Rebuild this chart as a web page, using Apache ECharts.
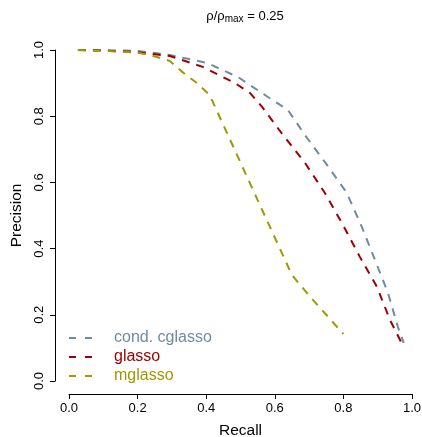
<!DOCTYPE html>
<html>
<head>
<meta charset="utf-8">
<script src="https://cdn.jsdelivr.net/npm/echarts@6/dist/echarts.min.js"></script>
<style>
  html, body { margin: 0; padding: 0; background: #fff; }
  #chart { width: 422px; height: 437px; }
</style>
</head>
<body>
<div id="chart"></div>
<script>
  // values
  const seriesNames = ['cond. cglasso', 'glasso', 'mglasso'];
  const seriesColors = ['#6f8ca0', '#a10000', '#9e9900'];

  const cglassoRecall = [0.026, 0.09, 0.2, 0.294, 0.402, 0.493, 0.58, 0.638, 0.688, 0.752, 0.81, 0.854, 0.892, 0.93, 0.959, 0.976];
  const cglassoPrecision = [1.0, 1.0, 0.997, 0.985, 0.961, 0.918, 0.858, 0.819, 0.743, 0.653, 0.568, 0.465, 0.366, 0.266, 0.163, 0.115];

  const glassoRecall = [0.026, 0.1, 0.192, 0.294, 0.39, 0.484, 0.528, 0.563, 0.624, 0.688, 0.746, 0.799, 0.848, 0.898, 0.936, 0.972];
  const glassoPrecision = [1.0, 0.998, 0.994, 0.982, 0.949, 0.9, 0.87, 0.828, 0.743, 0.659, 0.568, 0.471, 0.375, 0.284, 0.184, 0.11];

  const mglassoRecall = [0.026, 0.1, 0.2, 0.236, 0.294, 0.33, 0.373, 0.41, 0.65, 0.70, 0.80];
  const mglassoPrecision = [1.0, 0.998, 0.992, 0.985, 0.967, 0.934, 0.9, 0.864, 0.32, 0.258, 0.142];

  const axisTicks = [0, 0.2, 0.4, 0.6, 0.8, 1.0];

  const FONT = '"Liberation Sans", Arial, Helvetica, sans-serif';

  function pairs (xs, ys) {
    return xs.map((x, i) => [x, ys[i]]);
  }

  const seriesData = [
    pairs(cglassoRecall, cglassoPrecision),
    pairs(glassoRecall, glassoPrecision),
    pairs(mglassoRecall, mglassoPrecision)
  ];

  // R-style detached axis: line only from first to last tick, ticks outward
  function axisBase () {
    return {
      type: 'value',
      min: axisTicks[0],
      max: axisTicks[axisTicks.length - 1],
      interval: 0.2,
      splitLine: { show: false },
      axisLine: { show: true, onZero: false, lineStyle: { color: '#000', width: 1 } },
      axisTick: { show: true, length: 5, inside: false, lineStyle: { color: '#000', width: 1 } },
      axisLabel: {
        color: '#000',
        fontFamily: FONT,
        fontSize: 13,
        formatter: (v) => v.toFixed(1)
      },
      nameTextStyle: { color: '#000', fontFamily: FONT, fontSize: 15.5 }
    };
  }

  const xAxis = axisBase();
  xAxis.offset = 13;
  xAxis.name = 'Recall';
  xAxis.nameLocation = 'middle';
  xAxis.nameGap = 29;
  xAxis.axisLabel.margin = 8;

  const yAxis = axisBase();
  yAxis.offset = 14;
  yAxis.name = 'Precision';
  yAxis.nameLocation = 'middle';
  yAxis.nameGap = 30;
  yAxis.axisLabel.rotate = 90;
  yAxis.axisLabel.margin = 9;

  const chart = echarts.init(document.getElementById('chart'), null, { renderer: 'canvas' });

  chart.setOption({
    animation: false,
    backgroundColor: '#fff',
    title: {
      text: '{a|ρ/ρ}{sub|max}{a| = 0.25}',
      left: 240,
      top: 3,
      textAlign: 'center',
      textStyle: {
        fontWeight: 'normal',
        rich: {
          a: { fontFamily: FONT, fontSize: 13, fontWeight: 'normal', color: '#000', lineHeight: 16 },
          sub: { fontFamily: FONT, fontSize: 10, fontWeight: 'normal', color: '#000', lineHeight: 16, padding: [7, 0, 0, 0] }
        }
      }
    },
    grid: { left: 69, right: 10, top: 50, bottom: 56, containLabel: false, outerBoundsMode: 'none' },
    xAxis: xAxis,
    yAxis: yAxis,
    legend: {
      orient: 'vertical',
      left: 68,
      top: 330,
      padding: 0,
      itemWidth: 40,
      itemHeight: 14,
      itemGap: 3,
      selectedMode: false,
      itemStyle: { opacity: 0, borderWidth: 0 },
      lineStyle: { type: [7, 9, 7, 40], width: 2 },
      textStyle: { fontFamily: FONT, fontSize: 16 },
      data: seriesNames.map((n, i) => ({ name: n, textStyle: { color: seriesColors[i] } }))
    },
    series: seriesNames.map((n, i) => ({
      name: n,
      type: 'line',
      data: seriesData[i],
      symbol: 'none',
      smooth: false,
      color: seriesColors[i],
      lineStyle: { color: seriesColors[i], width: 2, type: [8, 7] }
    }))
  });
</script>
</body>
</html>
